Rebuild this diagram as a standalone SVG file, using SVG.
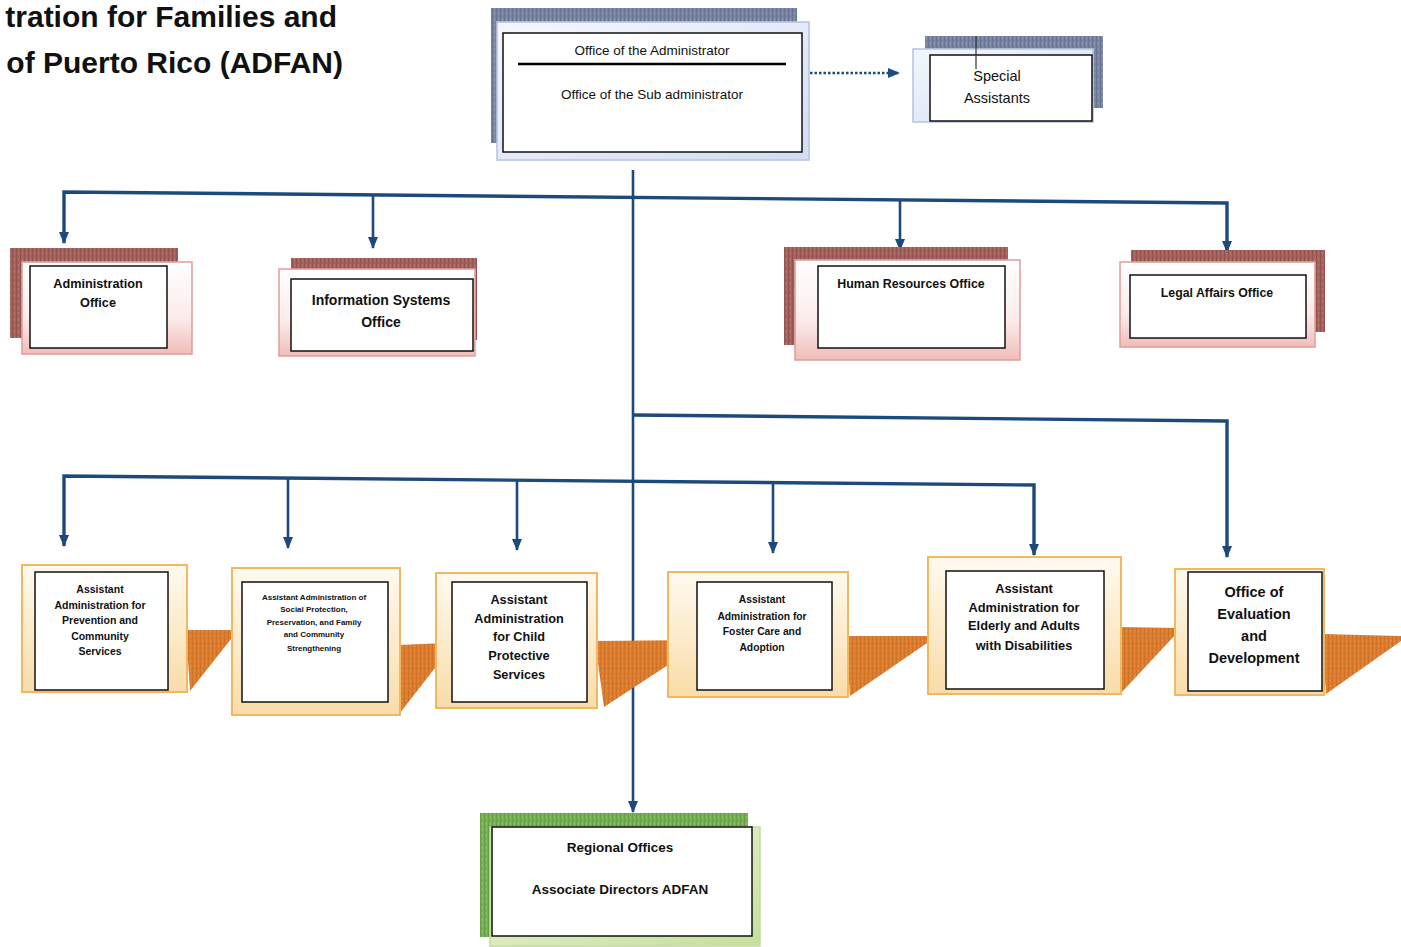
<svg xmlns="http://www.w3.org/2000/svg" width="1401" height="947" viewBox="0 0 1401 947">
<style>
text{font-family:"Liberation Sans",Arial,sans-serif;text-anchor:middle;fill:#111}
.title{font-size:30px;font-weight:bold;text-anchor:end;fill:#111}
.reg{font-weight:normal}
.b{font-weight:bold}
.inner{fill:#fff;stroke:#111;stroke-width:1.5}
.conn{fill:none;stroke:#1d4a7c;stroke-width:2.6}
.bus{fill:none;stroke:#1d4a7c;stroke-width:3.4}
.yframe{fill:url(#gYellow);stroke:#f0b95f;stroke-width:2}
.rframe{fill:url(#gRed);stroke:#e3a19e;stroke-width:1.6}
.bframe{fill:url(#gBlue);stroke:#b8c6e4;stroke-width:1.6}
.ribbon{fill:url(#texOrange)}
</style>
<defs>
<marker id="arr" viewBox="0 0 12 10" refX="11" refY="5" markerWidth="12" markerHeight="10" markerUnits="userSpaceOnUse" orient="auto-start-reverse">
<path d="M0,0 L12,5 L0,10 z" fill="#1d4a7c"/>
</marker>
<pattern id="texBlue" width="4" height="6" patternUnits="userSpaceOnUse"><rect width="4" height="6" fill="#7884a1"/><rect width="1" height="6" fill="#67738f"/><rect x="2" width="1" height="3" fill="#8b96b0"/></pattern>
<pattern id="texRed" width="4" height="6" patternUnits="userSpaceOnUse"><rect width="4" height="6" fill="#a3625e"/><rect width="1" height="6" fill="#925350"/><rect x="2" width="1" height="3" fill="#b4756f"/></pattern>
<pattern id="texGreen" width="4" height="6" patternUnits="userSpaceOnUse"><rect width="4" height="6" fill="#76ae53"/><rect width="1" height="6" fill="#659f45"/><rect x="2" width="1" height="3" fill="#8abf68"/></pattern>
<pattern id="texOrange" width="4" height="5" patternUnits="userSpaceOnUse"><rect width="4" height="5" fill="#dc7d2f"/><rect width="1" height="5" fill="#cf7127"/><rect x="2" width="1" height="2" fill="#e68d40"/></pattern>
<linearGradient id="gBlue" x1="0" y1="0" x2="1" y2="1"><stop offset="0" stop-color="#f4f7fd"/><stop offset="1" stop-color="#d3ddf2"/></linearGradient>
<linearGradient id="gRed" x1="0" y1="0" x2="0" y2="1"><stop offset="0" stop-color="#ffffff"/><stop offset="0.6" stop-color="#fbeceb"/><stop offset="1" stop-color="#efbdb9"/></linearGradient>
<linearGradient id="gYellow" x1="0" y1="0" x2="0" y2="1"><stop offset="0" stop-color="#fffaf0"/><stop offset="1" stop-color="#f9dca8"/></linearGradient>
<linearGradient id="gGreen" x1="0" y1="0" x2="1" y2="1"><stop offset="0" stop-color="#eef6e0"/><stop offset="1" stop-color="#c5df9c"/></linearGradient>
</defs>
<rect width="1401" height="947" fill="#ffffff"/>

<g id="title">
<text class="title" x="337" y="27">tration for Families and</text>
<text class="title" x="343" y="73">of Puerto Rico (ADFAN)</text>
</g>

<g id="connectors">
<path class="conn" d="M633,170 L633,812" marker-end="url(#arr)"/>
<path class="conn" d="M810,73 L899,73" stroke-dasharray="2.5,2" stroke-width="3" marker-end="url(#arr)"/>
<path class="bus" d="M64,243 L64,192 L1227,203 L1227,252" marker-start="url(#arr)" marker-end="url(#arr)"/>
<path class="conn" d="M373,195 L373,248" marker-end="url(#arr)"/>
<path class="conn" d="M900,200 L900,250" marker-end="url(#arr)"/>
<path class="bus" d="M633,415 L1227,421 L1227,557" marker-end="url(#arr)"/>
<path class="bus" d="M64,546 L64,476 L1034,485 L1034,555" marker-start="url(#arr)" marker-end="url(#arr)"/>
<path class="conn" d="M288,478 L288,548" marker-end="url(#arr)"/>
<path class="conn" d="M517,480 L517,550" marker-end="url(#arr)"/>
<path class="conn" d="M773,483 L773,553" marker-end="url(#arr)"/>
</g>

<g id="node-administrator">
<rect x="491" y="8" width="306" height="135" fill="url(#texBlue)"/>
<rect class="bframe" x="497" y="22" width="312" height="138"/>
<rect class="inner" x="503" y="33" width="299" height="119"/>
<text class="reg" x="652" y="55" font-size="13.5">Office of the Administrator</text>
<line x1="518" y1="64" x2="786" y2="64" stroke="#000" stroke-width="2.6"/>
<text class="reg" x="652" y="99" font-size="13.5">Office of the Sub administrator</text>
</g>

<g id="node-special-assistants">
<rect x="925" y="36" width="178" height="72" fill="url(#texBlue)"/>
<rect class="bframe" x="913" y="49" width="180" height="73"/>
<rect class="inner" x="930" y="55" width="162" height="66"/>
<line x1="976" y1="36" x2="976" y2="69" stroke="#333" stroke-width="1.2"/>
<text class="reg" x="997" y="81" font-size="14.5">Special</text>
<text class="reg" x="997" y="103" font-size="14.5">Assistants</text>
</g>

<g id="node-administration-office">
<rect x="10" y="248" width="168" height="90" fill="url(#texRed)"/>
<rect class="rframe" x="22" y="262" width="170" height="92"/>
<rect class="inner" x="30" y="266" width="137" height="82"/>
<text class="b" x="98" y="287.5" font-size="12.7">Administration</text>
<text class="b" x="98" y="306.5" font-size="12.7">Office</text>
</g>

<g id="node-information-systems">
<rect x="291" y="258" width="186" height="82" fill="url(#texRed)"/>
<rect class="rframe" x="279" y="269" width="196" height="87"/>
<rect class="inner" x="291" y="279" width="182" height="72"/>
<text class="b" x="381" y="305" font-size="14">Information Systems</text>
<text class="b" x="381" y="327" font-size="14">Office</text>
</g>

<g id="node-human-resources">
<rect x="784" y="247" width="224" height="98" fill="url(#texRed)"/>
<rect class="rframe" x="795" y="260" width="225" height="100"/>
<rect class="inner" x="818" y="266" width="187" height="82"/>
<text class="b" x="911" y="287.5" font-size="12.4">Human Resources Office</text>
</g>

<g id="node-legal-affairs">
<rect x="1131" y="250" width="194" height="82" fill="url(#texRed)"/>
<rect class="rframe" x="1120" y="262" width="195" height="85"/>
<rect class="inner" x="1130" y="275" width="176" height="63"/>
<text class="b" x="1217" y="296.5" font-size="12.3">Legal Affairs Office</text>
</g>

<g id="node-prevention">
<polygon class="ribbon" points="186,630 231,630 231,639 190,691"/>
<rect class="yframe" x="22" y="565" width="165" height="127"/>
<rect class="inner" x="35" y="572" width="133" height="118"/>
<g class="b" font-size="10.5">
<text x="100" y="592.7">Assistant</text>
<text x="100" y="608.7">Administration for</text>
<text x="100" y="623.7">Prevention and</text>
<text x="100" y="639.7">Community</text>
<text x="100" y="654.7">Services</text>
</g>
</g>

<g id="node-social-protection">
<polygon class="ribbon" points="398,645 445,643 445,655 400,713"/>
<rect class="yframe" x="232" y="568" width="168" height="147"/>
<rect class="inner" x="242" y="582" width="146" height="120"/>
<g class="b" font-size="8">
<text x="314" y="599.8">Assistant Administration of</text>
<text x="314" y="611.8">Social Protection,</text>
<text x="314" y="624.8">Preservation, and Family</text>
<text x="314" y="636.8">and Community</text>
<text x="314" y="650.8">Strengthening</text>
</g>
</g>

<g id="node-child-protective">
<polygon class="ribbon" points="595,641 697,640 697,646 604,707"/>
<rect class="yframe" x="436" y="573" width="161" height="135"/>
<rect class="inner" x="452" y="582" width="135" height="120"/>
<g class="b" font-size="12.7">
<text x="519" y="604.4">Assistant</text>
<text x="519" y="623.4">Administration</text>
<text x="519" y="641.4">for Child</text>
<text x="519" y="660.4">Protective</text>
<text x="519" y="679.4">Services</text>
</g>
</g>

<g id="node-foster-care">
<polygon class="ribbon" points="846,636 930,636 930,641 850,696"/>
<rect class="yframe" x="668" y="572" width="180" height="125"/>
<rect class="inner" x="697" y="582" width="135" height="108"/>
<g class="b" font-size="10.3">
<text x="762" y="602.6">Assistant</text>
<text x="762" y="619.6">Administration for</text>
<text x="762" y="634.6">Foster Care and</text>
<text x="762" y="650.6">Adoption</text>
</g>
</g>

<g id="node-elderly">
<polygon class="ribbon" points="1119,627 1177,628 1177,633 1122,692"/>
<rect class="yframe" x="928" y="557" width="193" height="137"/>
<rect class="inner" x="946" y="571" width="158" height="118"/>
<g class="b" font-size="12.8">
<text x="1024" y="592.5">Assistant</text>
<text x="1024" y="611.5">Administration for</text>
<text x="1024" y="629.5">Elderly and Adults</text>
<text x="1024" y="649.5">with Disabilities</text>
</g>
</g>

<g id="node-evaluation">
<polygon class="ribbon" points="1322,634 1401,636 1401,641 1326,694"/>
<rect class="yframe" x="1175" y="569" width="149" height="126"/>
<rect class="inner" x="1188" y="572" width="134" height="119"/>
<g class="b" font-size="14.5">
<text x="1254" y="597">Office of</text>
<text x="1254" y="619">Evaluation</text>
<text x="1254" y="641">and</text>
<text x="1254" y="663">Development</text>
</g>
</g>

<g id="node-regional-offices">
<rect x="480" y="813" width="268" height="124" fill="url(#texGreen)"/>
<rect x="490" y="827" width="270" height="119" fill="url(#gGreen)" stroke="#c2dc98" stroke-width="1.5"/>
<rect class="inner" x="492" y="827" width="260" height="109"/>
<text class="b" x="620" y="851.7" font-size="13.5">Regional Offices</text>
<text class="b" x="620" y="893.7" font-size="13.5">Associate Directors ADFAN</text>
</g>
</svg>
